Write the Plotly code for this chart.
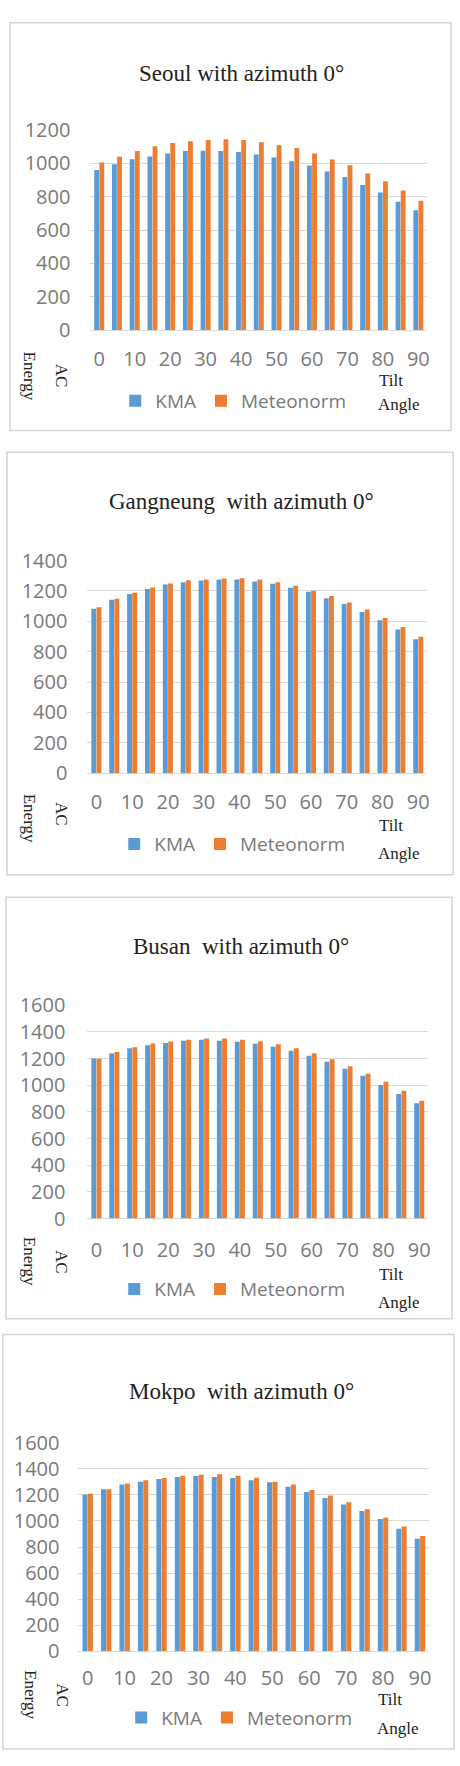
import plotly.graph_objects as go

# ---------------- data ----------------
tilt_angles = [0, 5, 10, 15, 20, 25, 30, 35, 40, 45, 50, 55, 60, 65, 70, 75, 80, 85, 90]
tick_values = [0, 10, 20, 30, 40, 50, 60, 70, 80, 90]

seoul_kma = [960, 994, 1024, 1041, 1059, 1073, 1075, 1073, 1067, 1053, 1035, 1012, 986, 951, 917, 870, 825, 770, 718]
seoul_meteonorm = [1004, 1039, 1073, 1102, 1122, 1132, 1140, 1144, 1140, 1126, 1108, 1091, 1059, 1022, 988, 939, 892, 837, 776]

gangneung_kma = [1082, 1141, 1180, 1212, 1242, 1257, 1268, 1275, 1275, 1262, 1247, 1221, 1195, 1151, 1113, 1061, 1007, 946, 881]
gangneung_meteonorm = [1092, 1149, 1188, 1223, 1249, 1270, 1275, 1281, 1283, 1275, 1257, 1234, 1201, 1167, 1123, 1078, 1022, 963, 899]

busan_kma = [1201, 1241, 1278, 1300, 1317, 1334, 1342, 1334, 1327, 1312, 1290, 1260, 1221, 1177, 1125, 1071, 1002, 935, 866]
busan_meteonorm = [1199, 1250, 1285, 1314, 1329, 1342, 1351, 1351, 1342, 1329, 1307, 1278, 1241, 1196, 1142, 1086, 1027, 960, 884]

mokpo_kma = [1204, 1244, 1280, 1302, 1322, 1338, 1345, 1338, 1330, 1312, 1297, 1262, 1222, 1176, 1126, 1076, 1015, 940, 864]
mokpo_meteonorm = [1209, 1244, 1287, 1312, 1330, 1348, 1355, 1358, 1348, 1332, 1302, 1280, 1237, 1196, 1144, 1091, 1025, 957, 884]

titles = ["Seoul with azimuth 0°", "Gangneung  with azimuth 0°",
          "Busan  with azimuth 0°", "Mokpo  with azimuth 0°"]
series_names = ["KMA", "Meteonorm"]
y_max = [1200, 1400, 1600, 1600]

kma_sets = [seoul_kma, gangneung_kma, busan_kma, mokpo_kma]
met_sets = [seoul_meteonorm, gangneung_meteonorm, busan_meteonorm, mokpo_meteonorm]

# ---------------- geometry (pixels) ----------------
W, H = 460, 1766
def fx(x):
    return x / W
def fy(y):
    return 1 - y / H

panels = [
    dict(box=(10, 9, 454, 423), px=(91, 430), py=(117.7, 321), title_y=60,
         ac=(62, 367), energy=(30, 368), leg=(116, 393), tilt=(379, 372), angle=(378, 397),
         ystand=19, xstand=15),
    dict(box=(7, 445, 456, 874), px=(88, 430), py=(555, 771), title_y=495,
         ac=(62, 812), energy=(30, 817), leg=(115, 843), tilt=(379, 824), angle=(378, 853),
         ystand=19, xstand=15),
    dict(box=(6, 897, 455, 1325), px=(88, 431), py=(1006.7, 1223.3), title_y=947,
         ac=(62, 1267), energy=(30, 1267), leg=(115, 1295), tilt=(379, 1280), angle=(378, 1308),
         ystand=21, xstand=17),
    dict(box=(3, 1341, 457, 1762), px=(79, 432), py=(1451, 1662.7), title_y=1399,
         ac=(63, 1707), energy=(30, 1707), leg=(122, 1730), tilt=(378, 1712), angle=(377, 1741),
         ystand=18, xstand=13),
]

BLUE = "#5B9BD5"
ORANGE = "#ED7D31"
GRID = "#D9D9D9"
TICK_FONT = dict(family="Open Sans", size=20, color="#7A7A7A")
LEG_FONT = dict(family="Open Sans", size=19, color="#7A7A7A")
SERIF = "Liberation Serif"

fig = go.Figure()
shapes = []
annotations = []
layout = dict(
    width=W, height=H, margin=dict(l=0, r=0, t=0, b=0),
    paper_bgcolor="white", plot_bgcolor="white",
    barmode="group", bargap=0.42, bargroupgap=0.06,
    showlegend=True,
)

for i, p in enumerate(panels):
    n = "" if i == 0 else str(i + 1)
    xa, ya = "x" + n, "y" + n
    leg = "legend" + n
    fig.add_trace(go.Bar(x=tilt_angles, y=kma_sets[i], name=series_names[0],
                         marker=dict(color=BLUE, line=dict(width=0)),
                         xaxis=xa, yaxis=ya, legend=leg))
    fig.add_trace(go.Bar(x=tilt_angles, y=met_sets[i], name=series_names[1],
                         marker=dict(color=ORANGE, line=dict(width=0)),
                         xaxis=xa, yaxis=ya, legend=leg))

    layout["xaxis" + n] = dict(
        domain=[fx(p["px"][0]), fx(p["px"][1])], anchor=ya,
        range=[-2.5, 92.5], tickvals=tick_values, showgrid=False,
        showline=False, zeroline=False, ticks="", tickfont=TICK_FONT,
        ticklabelstandoff=p["xstand"], fixedrange=True,
    )
    layout["yaxis" + n] = dict(
        domain=[fy(p["py"][1]), fy(p["py"][0])], anchor=xa,
        range=[0, y_max[i]], dtick=200, showgrid=True, gridcolor=GRID, gridwidth=1,
        zeroline=True, zerolinecolor=GRID, zerolinewidth=1, showline=False,
        ticks="", tickfont=TICK_FONT, ticklabelstandoff=p["ystand"], fixedrange=True,
    )
    layout[leg] = dict(
        orientation="h", x=fx(p["leg"][0]), y=fy(p["leg"][1]),
        xanchor="left", yanchor="middle", font=LEG_FONT,
        bgcolor="rgba(0,0,0,0)", itemwidth=30, traceorder="normal",
    )

    x0, y0, x1, y1 = p["box"]
    shapes.append(dict(type="rect", xref="paper", yref="paper",
                       x0=fx(x0), x1=fx(x1), y0=fy(y1), y1=fy(y0),
                       line=dict(color="#D4D4D4", width=1.5), fillcolor="rgba(0,0,0,0)"))

    annotations.append(dict(text=titles[i], xref="paper", yref="paper",
                            x=fx(243), y=fy(p["title_y"]), xanchor="center", yanchor="middle",
                            showarrow=False, font=dict(family=SERIF, size=23, color="#222222")))
    annotations.append(dict(text="AC", xref="paper", yref="paper",
                            x=fx(p["ac"][0]), y=fy(p["ac"][1]), xanchor="center", yanchor="middle",
                            textangle=90, showarrow=False,
                            font=dict(family=SERIF, size=17, color="#222222")))
    annotations.append(dict(text="Energy", xref="paper", yref="paper",
                            x=fx(p["energy"][0]), y=fy(p["energy"][1]), xanchor="center", yanchor="middle",
                            textangle=90, showarrow=False,
                            font=dict(family=SERIF, size=17, color="#222222")))
    annotations.append(dict(text="Tilt", xref="paper", yref="paper",
                            x=fx(p["tilt"][0]), y=fy(p["tilt"][1]), xanchor="left", yanchor="middle",
                            showarrow=False, font=dict(family=SERIF, size=17, color="#222222")))
    annotations.append(dict(text="Angle", xref="paper", yref="paper",
                            x=fx(p["angle"][0]), y=fy(p["angle"][1]), xanchor="left", yanchor="middle",
                            showarrow=False, font=dict(family=SERIF, size=17, color="#222222")))

layout["shapes"] = shapes
layout["annotations"] = annotations
fig.update_layout(**layout)

fig.write_html("out.html")
